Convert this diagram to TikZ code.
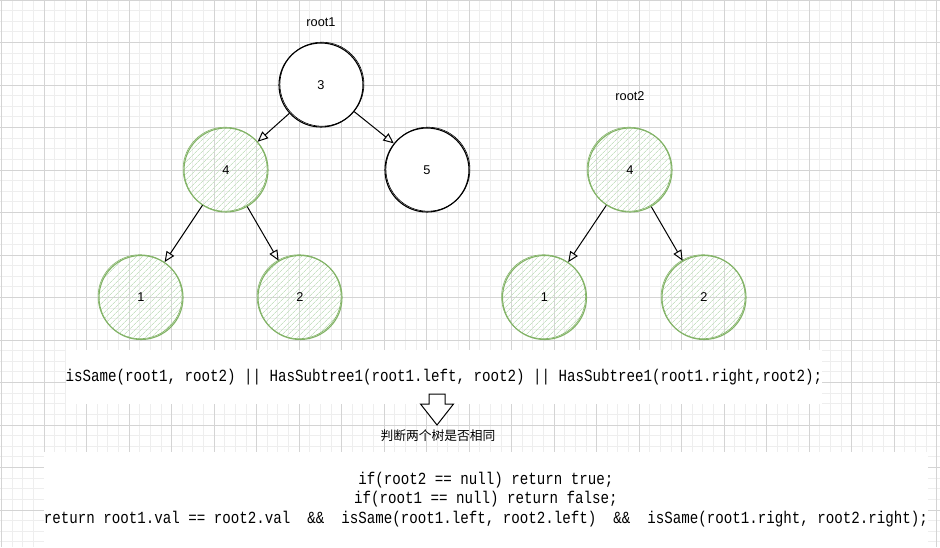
\documentclass[tikz,border=0pt]{standalone}
\usepackage{fontspec}
\setmainfont{Liberation Sans}
\newfontfamily\codefont[FakeStretch=0.8333]{Liberation Mono}
\newfontfamily\cjkfont{Noto Sans CJK SC}
\usetikzlibrary{arrows.meta,patterns.meta}
\definecolor{gridmajor}{RGB}{212,212,212}
\definecolor{gridminor}{RGB}{238,238,238}
\definecolor{gstroke}{HTML}{82B366}
\definecolor{gfill}{RGB}{200,226,196}
\begin{document}
\begin{tikzpicture}[x=1pt,y=-1pt,
  treenode/.style={circle, minimum size=84pt, inner sep=0pt, font=\fontsize{12.75}{15}\selectfont},
  blacknode/.style={treenode, draw=black, line width=1.1pt, fill=white,
    postaction={draw=black, line width=0.6pt, transform canvas={shift={(0.9pt,0.8pt)}}}},
  greennode/.style={treenode, draw=gstroke, line width=1.1pt,
    pattern={Lines[angle=45,distance=4pt,line width=0.7pt]}, pattern color=gfill,
    postaction={draw=gstroke, line width=0.6pt, transform canvas={shift={(-0.9pt,0.8pt)}}}},
  link/.style={draw=black, line width=1pt, -{Triangle[open, length=10.5pt, width=9pt, line width=1pt]}},
  label/.style={font=\fontsize{12.75}{15}\selectfont},
  codebox/.style={fill=white, inner sep=0pt, align=center, font=\codefont\fontsize{17}{19.5}\selectfont}
]
\useasboundingbox (0,0) rectangle (940,547);
\fill[white] (0,0) rectangle (940,547);
% grid
\foreach \i in {0,...,88} {
  \pgfmathsetmacro\xx{1.7+10.625*\i}
  \draw[gridminor, line width=1pt] (\xx,0) -- (\xx,547);
}
\foreach \i in {0,...,51} {
  \pgfmathsetmacro\yy{10.625*\i}
  \draw[gridminor, line width=1pt] (0,\yy) -- (940,\yy);
}
\foreach \i in {0,...,22} {
  \pgfmathsetmacro\xx{1.7+42.5*\i}
  \draw[gridmajor, line width=1pt] (\xx,0) -- (\xx,547);
}
\foreach \i in {0,...,12} {
  \pgfmathsetmacro\yy{42.5*\i}
  \draw[gridmajor, line width=1pt] (0,\yy) -- (940,\yy);
}

% tree 1
\node[label] (r1lab) at (321,22) {root1};
\node[blacknode] (a3) at (321,85) {3};
\node[greennode] (a4) at (226,170) {4};
\node[blacknode] (a5) at (427,170) {5};
\node[greennode] (a1) at (141,297.5) {1};
\node[greennode] (a2) at (300,297.5) {2};
\draw[link] (a3) -- (a4);
\draw[link] (a3) -- (a5);
\draw[link] (a4) -- (a1);
\draw[link] (a4) -- (a2);

% tree 2
\node[label] (r2lab) at (630,96) {root2};
\node[greennode] (b4) at (630,170) {4};
\node[greennode] (b1) at (544.5,297.5) {1};
\node[greennode] (b2) at (704,297.5) {2};
\draw[link] (b4) -- (b1);
\draw[link] (b4) -- (b2);

% expression
\node[codebox, minimum width=756pt, minimum height=54pt] (expr) at (444,377)
  {isSame(root1, root2) || HasSubtree1(root1.left, root2) || HasSubtree1(root1.right,root2);};

% block arrow
\draw[fill=white, line width=1pt, line join=miter] (429,394) -- (445,394) -- (445,404) -- (453.5,404) -- (437,425) -- (420.5,404) -- (429,404) -- cycle;
\node[font=\cjkfont\fontsize{12.75}{15}\selectfont] (note) at (438,436) {判断两个树是否相同};

% code
\node[codebox, minimum width=884pt, minimum height=95pt] (code) at (486,499.5)
  {if(root2 == null) return true;\\
   if(root1 == null) return false;\\
   return root1.val == root2.val\ \ \&\&\ \ isSame(root1.left, root2.left)\ \ \&\&\ \ isSame(root1.right, root2.right);};
\end{tikzpicture}
\end{document}
